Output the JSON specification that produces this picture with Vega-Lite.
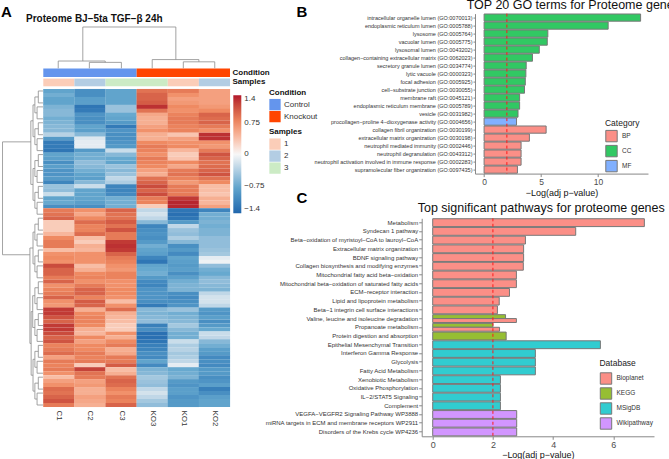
{"$schema":"https://vega.github.io/schema/vega-lite/v6.json","padding":{"left":0,"top":-1.4,"right":0,"bottom":0},"bounds":"flush","background":"white","config":{"font":"Liberation Sans","view":{"stroke":null},"axis":{"grid":false}},"resolve":{"scale":{"color":"independent"},"legend":{"color":"independent"}},"datasets":{"paths":[
{"term":"Metabolism","score":7.03,"Database":"Bioplanet"},
{"term":"Syndecan 1 pathway","score":4.75,"Database":"Bioplanet"},
{"term":"Beta−oxidation of myristoyl−CoA to lauroyl−CoA","score":3.08,"Database":"Bioplanet"},
{"term":"Extracellular matrix organization","score":3.02,"Database":"Bioplanet"},
{"term":"BDNF signaling pathway","score":3.02,"Database":"Bioplanet"},
{"term":"Collagen biosynthesis and modifying enzymes","score":3.01,"Database":"Bioplanet"},
{"term":"Mitochondrial fatty acid beta−oxidation","score":2.78,"Database":"Bioplanet"},
{"term":"Mitochondrial beta−oxidation of saturated fatty acids","score":2.78,"Database":"Bioplanet"},
{"term":"ECM−receptor interaction","score":2.55,"Database":"Bioplanet"},
{"term":"Lipid and lipoprotein metabolism","score":2.21,"Database":"Bioplanet"},
{"term":"Beta−1 integrin cell surface interactions","score":2.15,"Database":"Bioplanet"},
{"term":"Valine, leucine and isoleucine degradation","score":2.42,"Database":"KEGG"},
{"term":"Valine, leucine and isoleucine degradation","score":2.78,"Database":"Bioplanet"},
{"term":"Propanoate metabolism","score":2.0,"Database":"KEGG"},
{"term":"Propanoate metabolism","score":2.22,"Database":"Bioplanet"},
{"term":"Protein digestion and absorption","score":2.44,"Database":"KEGG"},
{"term":"Epithelial Mesenchymal Transition","score":5.57,"Database":"MSigDB"},
{"term":"Interferon Gamma Response","score":3.41,"Database":"MSigDB"},
{"term":"Glycolysis","score":3.41,"Database":"MSigDB"},
{"term":"Fatty Acid Metabolism","score":3.41,"Database":"MSigDB"},
{"term":"Xenobiotic Metabolism","score":2.25,"Database":"MSigDB"},
{"term":"Oxidative Phosphorylation","score":2.25,"Database":"MSigDB"},
{"term":"IL−2/STAT5 Signaling","score":2.25,"Database":"MSigDB"},
{"term":"Complement","score":2.25,"Database":"MSigDB"},
{"term":"VEGFA−VEGFR2 Signaling Pathway WP3888","score":2.79,"Database":"Wikipathway"},
{"term":"miRNA targets in ECM and membrane receptors WP2911","score":2.79,"Database":"Wikipathway"},
{"term":"Disorders of the Krebs cycle WP4236","score":2.79,"Database":"Wikipathway"}
]},"spacing":191.7,"hconcat":[{"width":230,"height":393.4,"resolve":{"scale":{"color":"independent"}},"layer":[
{"data":{"values":[
{"row":0,"col":0,"z":-0.8},{"row":0,"col":1,"z":-1.0},{"row":0,"col":2,"z":-0.8},{"row":0,"col":3,"z":0.9},{"row":0,"col":4,"z":0.85},{"row":0,"col":5,"z":0.6},
{"row":1,"col":0,"z":-0.7},{"row":1,"col":1,"z":-1.0},{"row":1,"col":2,"z":-0.8},{"row":1,"col":3,"z":1.0},{"row":1,"col":4,"z":0.7},{"row":1,"col":5,"z":0.6},
{"row":2,"col":0,"z":-0.8},{"row":2,"col":1,"z":-0.85},{"row":2,"col":2,"z":-0.8},{"row":2,"col":3,"z":1.0},{"row":2,"col":4,"z":0.6},{"row":2,"col":5,"z":0.6},
{"row":3,"col":0,"z":-0.8},{"row":3,"col":1,"z":-0.85},{"row":3,"col":2,"z":-0.8},{"row":3,"col":3,"z":1.05},{"row":3,"col":4,"z":0.65},{"row":3,"col":5,"z":0.6},
{"row":4,"col":0,"z":-0.65},{"row":4,"col":1,"z":-1.25},{"row":4,"col":2,"z":-0.5},{"row":4,"col":3,"z":1.3},{"row":4,"col":4,"z":0.75},{"row":4,"col":5,"z":0.65},
{"row":5,"col":0,"z":-0.6},{"row":5,"col":1,"z":-1.2},{"row":5,"col":2,"z":-0.5},{"row":5,"col":3,"z":0.9},{"row":5,"col":4,"z":0.7},{"row":5,"col":5,"z":0.75},
{"row":6,"col":0,"z":-0.6},{"row":6,"col":1,"z":-0.95},{"row":6,"col":2,"z":-0.75},{"row":6,"col":3,"z":0.55},{"row":6,"col":4,"z":0.8},{"row":6,"col":5,"z":1.0},
{"row":7,"col":0,"z":-0.7},{"row":7,"col":1,"z":-1.0},{"row":7,"col":2,"z":-0.8},{"row":7,"col":3,"z":0.5},{"row":7,"col":4,"z":0.85},{"row":7,"col":5,"z":0.95},
{"row":8,"col":0,"z":-0.65},{"row":8,"col":1,"z":-1.0},{"row":8,"col":2,"z":-0.9},{"row":8,"col":3,"z":0.5},{"row":8,"col":4,"z":0.85},{"row":8,"col":5,"z":1.0},
{"row":9,"col":0,"z":-0.6},{"row":9,"col":1,"z":-0.8},{"row":9,"col":2,"z":-1.2},{"row":9,"col":3,"z":0.6},{"row":9,"col":4,"z":0.8},{"row":9,"col":5,"z":0.85},
{"row":10,"col":0,"z":-0.6},{"row":10,"col":1,"z":-0.85},{"row":10,"col":2,"z":-0.95},{"row":10,"col":3,"z":0.7},{"row":10,"col":4,"z":0.8},{"row":10,"col":5,"z":0.7},
{"row":11,"col":0,"z":-0.35},{"row":11,"col":1,"z":-0.6},{"row":11,"col":2,"z":-1.0},{"row":11,"col":3,"z":0.5},{"row":11,"col":4,"z":0.35},{"row":11,"col":5,"z":1.3},
{"row":12,"col":0,"z":-0.9},{"row":12,"col":1,"z":-0.15},{"row":12,"col":2,"z":-1.0},{"row":12,"col":3,"z":0.5},{"row":12,"col":4,"z":0.6},{"row":12,"col":5,"z":1.3},
{"row":13,"col":0,"z":-1.2},{"row":13,"col":1,"z":-0.1},{"row":13,"col":2,"z":-0.95},{"row":13,"col":3,"z":0.75},{"row":13,"col":4,"z":0.7},{"row":13,"col":5,"z":0.7},
{"row":14,"col":0,"z":-1.2},{"row":14,"col":1,"z":-0.1},{"row":14,"col":2,"z":-0.9},{"row":14,"col":3,"z":0.85},{"row":14,"col":4,"z":0.75},{"row":14,"col":5,"z":0.65},
{"row":15,"col":0,"z":-1.25},{"row":15,"col":1,"z":-0.9},{"row":15,"col":2,"z":-0.25},{"row":15,"col":3,"z":0.8},{"row":15,"col":4,"z":0.45},{"row":15,"col":5,"z":0.85},
{"row":16,"col":0,"z":-0.8},{"row":16,"col":1,"z":-0.7},{"row":16,"col":2,"z":-0.6},{"row":16,"col":3,"z":0.7},{"row":16,"col":4,"z":0.3},{"row":16,"col":5,"z":1.1},
{"row":17,"col":0,"z":-0.85},{"row":17,"col":1,"z":-0.7},{"row":17,"col":2,"z":-0.75},{"row":17,"col":3,"z":0.85},{"row":17,"col":4,"z":0.35},{"row":17,"col":5,"z":1.0},
{"row":18,"col":0,"z":-1.0},{"row":18,"col":1,"z":-0.55},{"row":18,"col":2,"z":-0.8},{"row":18,"col":3,"z":0.8},{"row":18,"col":4,"z":0.75},{"row":18,"col":5,"z":0.9},
{"row":19,"col":0,"z":-0.85},{"row":19,"col":1,"z":-0.6},{"row":19,"col":2,"z":-0.5},{"row":19,"col":3,"z":0.75},{"row":19,"col":4,"z":0.55},{"row":19,"col":5,"z":0.95},
{"row":20,"col":0,"z":-0.95},{"row":20,"col":1,"z":-0.7},{"row":20,"col":2,"z":-0.6},{"row":20,"col":3,"z":0.6},{"row":20,"col":4,"z":0.85},{"row":20,"col":5,"z":1.0},
{"row":21,"col":0,"z":-0.95},{"row":21,"col":1,"z":-0.8},{"row":21,"col":2,"z":-0.5},{"row":21,"col":3,"z":0.5},{"row":21,"col":4,"z":0.9},{"row":21,"col":5,"z":1.1},
{"row":22,"col":0,"z":-0.9},{"row":22,"col":1,"z":-0.85},{"row":22,"col":2,"z":-0.3},{"row":22,"col":3,"z":0.9},{"row":22,"col":4,"z":0.8},{"row":22,"col":5,"z":0.9},
{"row":23,"col":0,"z":-1.1},{"row":23,"col":1,"z":-0.6},{"row":23,"col":2,"z":-0.4},{"row":23,"col":3,"z":1.0},{"row":23,"col":4,"z":0.65},{"row":23,"col":5,"z":0.75},
{"row":24,"col":0,"z":-0.5},{"row":24,"col":1,"z":-0.25},{"row":24,"col":2,"z":-1.1},{"row":24,"col":3,"z":1.15},{"row":24,"col":4,"z":0.85},{"row":24,"col":5,"z":0.4},
{"row":25,"col":0,"z":-0.55},{"row":25,"col":1,"z":-0.8},{"row":25,"col":2,"z":-1.1},{"row":25,"col":3,"z":1.0},{"row":25,"col":4,"z":0.85},{"row":25,"col":5,"z":0.4},
{"row":26,"col":0,"z":-0.25},{"row":26,"col":1,"z":-0.8},{"row":26,"col":2,"z":-1.05},{"row":26,"col":3,"z":1.15},{"row":26,"col":4,"z":0.85},{"row":26,"col":5,"z":0.35},
{"row":27,"col":0,"z":-0.8},{"row":27,"col":1,"z":-0.8},{"row":27,"col":2,"z":-0.7},{"row":27,"col":3,"z":0.85},{"row":27,"col":4,"z":1.25},{"row":27,"col":5,"z":0.5},
{"row":28,"col":0,"z":-0.75},{"row":28,"col":1,"z":-0.85},{"row":28,"col":2,"z":-0.7},{"row":28,"col":3,"z":0.8},{"row":28,"col":4,"z":1.35},{"row":28,"col":5,"z":0.45},
{"row":29,"col":0,"z":-1.0},{"row":29,"col":1,"z":-1.0},{"row":29,"col":2,"z":-0.7},{"row":29,"col":3,"z":0.3},{"row":29,"col":4,"z":1.35},{"row":29,"col":5,"z":0.6},
{"row":30,"col":0,"z":0.85},{"row":30,"col":1,"z":0.7},{"row":30,"col":2,"z":1.0},{"row":30,"col":3,"z":-0.3},{"row":30,"col":4,"z":-1.25},{"row":30,"col":5,"z":-1.1},
{"row":31,"col":0,"z":0.9},{"row":31,"col":1,"z":0.55},{"row":31,"col":2,"z":0.9},{"row":31,"col":3,"z":-0.2},{"row":31,"col":4,"z":-1.3},{"row":31,"col":5,"z":-0.7},
{"row":32,"col":0,"z":1.0},{"row":32,"col":1,"z":0.75},{"row":32,"col":2,"z":0.9},{"row":32,"col":3,"z":-0.3},{"row":32,"col":4,"z":-1.25},{"row":32,"col":5,"z":-0.7},
{"row":33,"col":0,"z":0.3},{"row":33,"col":1,"z":0.95},{"row":33,"col":2,"z":1.05},{"row":33,"col":3,"z":-0.6},{"row":33,"col":4,"z":-0.9},{"row":33,"col":5,"z":-0.65},
{"row":34,"col":0,"z":0.3},{"row":34,"col":1,"z":0.8},{"row":34,"col":2,"z":0.9},{"row":34,"col":3,"z":-1.1},{"row":34,"col":4,"z":-0.3},{"row":34,"col":5,"z":-0.7},
{"row":35,"col":0,"z":0.3},{"row":35,"col":1,"z":0.8},{"row":35,"col":2,"z":1.1},{"row":35,"col":3,"z":-1.0},{"row":35,"col":4,"z":-0.5},{"row":35,"col":5,"z":-0.65},
{"row":36,"col":0,"z":0.45},{"row":36,"col":1,"z":0.95},{"row":36,"col":2,"z":0.85},{"row":36,"col":3,"z":-0.95},{"row":36,"col":4,"z":-0.55},{"row":36,"col":5,"z":-0.65},
{"row":37,"col":0,"z":0.75},{"row":37,"col":1,"z":0.4},{"row":37,"col":2,"z":0.85},{"row":37,"col":3,"z":-1.0},{"row":37,"col":4,"z":-0.4},{"row":37,"col":5,"z":-0.55},
{"row":38,"col":0,"z":0.85},{"row":38,"col":1,"z":0.3},{"row":38,"col":2,"z":1.25},{"row":38,"col":3,"z":-0.9},{"row":38,"col":4,"z":-0.6},{"row":38,"col":5,"z":-0.55},
{"row":39,"col":0,"z":0.85},{"row":39,"col":1,"z":0.5},{"row":39,"col":2,"z":1.3},{"row":39,"col":3,"z":-0.7},{"row":39,"col":4,"z":-1.0},{"row":39,"col":5,"z":-0.55},
{"row":40,"col":0,"z":0.4},{"row":40,"col":1,"z":0.45},{"row":40,"col":2,"z":1.25},{"row":40,"col":3,"z":-0.8},{"row":40,"col":4,"z":-0.9},{"row":40,"col":5,"z":-0.5},
{"row":41,"col":0,"z":0.7},{"row":41,"col":1,"z":0.7},{"row":41,"col":2,"z":1.0},{"row":41,"col":3,"z":-0.85},{"row":41,"col":4,"z":-1.05},{"row":41,"col":5,"z":-0.45},
{"row":42,"col":0,"z":0.75},{"row":42,"col":1,"z":0.7},{"row":42,"col":2,"z":0.85},{"row":42,"col":3,"z":-1.1},{"row":42,"col":4,"z":-0.8},{"row":42,"col":5,"z":-0.1},
{"row":43,"col":0,"z":0.7},{"row":43,"col":1,"z":0.7},{"row":43,"col":2,"z":0.8},{"row":43,"col":3,"z":-1.25},{"row":43,"col":4,"z":-0.85},{"row":43,"col":5,"z":-0.05},
{"row":44,"col":0,"z":1.15},{"row":44,"col":1,"z":0.4},{"row":44,"col":2,"z":0.7},{"row":44,"col":3,"z":-0.8},{"row":44,"col":4,"z":-0.9},{"row":44,"col":5,"z":-0.55},
{"row":45,"col":0,"z":1.0},{"row":45,"col":1,"z":0.5},{"row":45,"col":2,"z":0.65},{"row":45,"col":3,"z":-0.75},{"row":45,"col":4,"z":-0.85},{"row":45,"col":5,"z":-0.7},
{"row":46,"col":0,"z":1.0},{"row":46,"col":1,"z":0.75},{"row":46,"col":2,"z":0.8},{"row":46,"col":3,"z":-0.7},{"row":46,"col":4,"z":-1.0},{"row":46,"col":5,"z":-0.75},
{"row":47,"col":0,"z":0.85},{"row":47,"col":1,"z":0.8},{"row":47,"col":2,"z":0.8},{"row":47,"col":3,"z":-0.9},{"row":47,"col":4,"z":-0.85},{"row":47,"col":5,"z":-0.6},
{"row":48,"col":0,"z":1.0},{"row":48,"col":1,"z":0.7},{"row":48,"col":2,"z":0.7},{"row":48,"col":3,"z":-1.05},{"row":48,"col":4,"z":-0.7},{"row":48,"col":5,"z":-0.55},
{"row":49,"col":0,"z":0.7},{"row":49,"col":1,"z":0.85},{"row":49,"col":2,"z":0.7},{"row":49,"col":3,"z":-1.1},{"row":49,"col":4,"z":-0.65},{"row":49,"col":5,"z":-0.6},
{"row":50,"col":0,"z":0.8},{"row":50,"col":1,"z":1.0},{"row":50,"col":2,"z":0.75},{"row":50,"col":3,"z":-0.95},{"row":50,"col":4,"z":-0.65},{"row":50,"col":5,"z":-0.65},
{"row":51,"col":0,"z":0.85},{"row":51,"col":1,"z":1.0},{"row":51,"col":2,"z":0.75},{"row":51,"col":3,"z":-0.95},{"row":51,"col":4,"z":-1.0},{"row":51,"col":5,"z":-0.3},
{"row":52,"col":0,"z":1.0},{"row":52,"col":1,"z":0.8},{"row":52,"col":2,"z":0.7},{"row":52,"col":3,"z":-0.95},{"row":52,"col":4,"z":-1.05},{"row":52,"col":5,"z":-0.2},
{"row":53,"col":0,"z":0.7},{"row":53,"col":1,"z":1.05},{"row":53,"col":2,"z":0.4},{"row":53,"col":3,"z":-1.0},{"row":53,"col":4,"z":-1.0},{"row":53,"col":5,"z":-0.2},
{"row":54,"col":0,"z":0.65},{"row":54,"col":1,"z":1.0},{"row":54,"col":2,"z":0.7},{"row":54,"col":3,"z":-1.2},{"row":54,"col":4,"z":-0.95},{"row":54,"col":5,"z":-0.3},
{"row":55,"col":0,"z":1.25},{"row":55,"col":1,"z":0.5},{"row":55,"col":2,"z":0.95},{"row":55,"col":3,"z":-0.6},{"row":55,"col":4,"z":-0.5},{"row":55,"col":5,"z":-0.9},
{"row":56,"col":0,"z":1.25},{"row":56,"col":1,"z":0.75},{"row":56,"col":2,"z":0.5},{"row":56,"col":3,"z":-0.65},{"row":56,"col":4,"z":-0.7},{"row":56,"col":5,"z":-0.95},
{"row":57,"col":0,"z":1.1},{"row":57,"col":1,"z":0.8},{"row":57,"col":2,"z":0.45},{"row":57,"col":3,"z":-0.6},{"row":57,"col":4,"z":-0.65},{"row":57,"col":5,"z":-0.85},
{"row":58,"col":0,"z":1.0},{"row":58,"col":1,"z":0.8},{"row":58,"col":2,"z":0.4},{"row":58,"col":3,"z":-0.55},{"row":58,"col":4,"z":-0.6},{"row":58,"col":5,"z":-1.0},
{"row":59,"col":0,"z":1.25},{"row":59,"col":1,"z":0.75},{"row":59,"col":2,"z":0.3},{"row":59,"col":3,"z":-1.15},{"row":59,"col":4,"z":-0.45},{"row":59,"col":5,"z":-0.9},
{"row":60,"col":0,"z":1.25},{"row":60,"col":1,"z":0.5},{"row":60,"col":2,"z":0.3},{"row":60,"col":3,"z":-1.0},{"row":60,"col":4,"z":-0.6},{"row":60,"col":5,"z":-0.75},
{"row":61,"col":0,"z":1.15},{"row":61,"col":1,"z":0.45},{"row":61,"col":2,"z":0.7},{"row":61,"col":3,"z":-1.3},{"row":61,"col":4,"z":-0.7},{"row":61,"col":5,"z":-0.25},
{"row":62,"col":0,"z":1.0},{"row":62,"col":1,"z":0.75},{"row":62,"col":2,"z":0.5},{"row":62,"col":3,"z":-1.3},{"row":62,"col":4,"z":-0.7},{"row":62,"col":5,"z":-0.3},
{"row":63,"col":0,"z":1.1},{"row":63,"col":1,"z":0.6},{"row":63,"col":2,"z":0.75},{"row":63,"col":3,"z":-1.25},{"row":63,"col":4,"z":-0.25},{"row":63,"col":5,"z":-0.6},
{"row":64,"col":0,"z":0.8},{"row":64,"col":1,"z":0.75},{"row":64,"col":2,"z":0.85},{"row":64,"col":3,"z":-1.15},{"row":64,"col":4,"z":-0.4},{"row":64,"col":5,"z":-0.7},
{"row":65,"col":0,"z":0.85},{"row":65,"col":1,"z":0.75},{"row":65,"col":2,"z":0.5},{"row":65,"col":3,"z":-1.1},{"row":65,"col":4,"z":-0.35},{"row":65,"col":5,"z":-0.85},
{"row":66,"col":0,"z":0.95},{"row":66,"col":1,"z":0.85},{"row":66,"col":2,"z":0.55},{"row":66,"col":3,"z":-1.0},{"row":66,"col":4,"z":-0.45},{"row":66,"col":5,"z":-0.9},
{"row":67,"col":0,"z":0.6},{"row":67,"col":1,"z":0.8},{"row":67,"col":2,"z":0.85},{"row":67,"col":3,"z":-1.05},{"row":67,"col":4,"z":-0.4},{"row":67,"col":5,"z":-1.05},
{"row":68,"col":0,"z":0.85},{"row":68,"col":1,"z":0.85},{"row":68,"col":2,"z":0.85},{"row":68,"col":3,"z":-0.8},{"row":68,"col":4,"z":-0.3},{"row":68,"col":5,"z":-1.0},
{"row":69,"col":0,"z":0.8},{"row":69,"col":1,"z":0.3},{"row":69,"col":2,"z":1.05},{"row":69,"col":3,"z":-1.05},{"row":69,"col":4,"z":-0.1},{"row":69,"col":5,"z":-1.05},
{"row":70,"col":0,"z":0.85},{"row":70,"col":1,"z":1.2},{"row":70,"col":2,"z":0.4},{"row":70,"col":3,"z":-0.65},{"row":70,"col":4,"z":-0.75},{"row":70,"col":5,"z":-0.9},
{"row":71,"col":0,"z":0.7},{"row":71,"col":1,"z":0.9},{"row":71,"col":2,"z":0.5},{"row":71,"col":3,"z":-0.6},{"row":71,"col":4,"z":-0.7},{"row":71,"col":5,"z":-0.9},
{"row":72,"col":0,"z":0.4},{"row":72,"col":1,"z":0.85},{"row":72,"col":2,"z":0.9},{"row":72,"col":3,"z":-0.45},{"row":72,"col":4,"z":-0.65},{"row":72,"col":5,"z":-1.0},
{"row":73,"col":0,"z":0.6},{"row":73,"col":1,"z":0.6},{"row":73,"col":2,"z":1.0},{"row":73,"col":3,"z":-0.5},{"row":73,"col":4,"z":-0.9},{"row":73,"col":5,"z":-0.95},
{"row":74,"col":0,"z":0.7},{"row":74,"col":1,"z":0.65},{"row":74,"col":2,"z":0.95},{"row":74,"col":3,"z":-0.55},{"row":74,"col":4,"z":-0.95},{"row":74,"col":5,"z":-0.85},
{"row":75,"col":0,"z":0.95},{"row":75,"col":1,"z":0.5},{"row":75,"col":2,"z":0.8},{"row":75,"col":3,"z":-0.3},{"row":75,"col":4,"z":-0.85},{"row":75,"col":5,"z":-1.15},
{"row":76,"col":0,"z":0.9},{"row":76,"col":1,"z":0.5},{"row":76,"col":2,"z":0.7},{"row":76,"col":3,"z":-0.2},{"row":76,"col":4,"z":-0.85},{"row":76,"col":5,"z":-1.0},
{"row":77,"col":0,"z":1.0},{"row":77,"col":1,"z":0.6},{"row":77,"col":2,"z":0.85},{"row":77,"col":3,"z":-0.3},{"row":77,"col":4,"z":-0.95},{"row":77,"col":5,"z":-0.85},
{"row":78,"col":0,"z":1.1},{"row":78,"col":1,"z":0.55},{"row":78,"col":2,"z":0.8},{"row":78,"col":3,"z":-0.45},{"row":78,"col":4,"z":-0.9},{"row":78,"col":5,"z":-0.8},
{"row":79,"col":0,"z":0.85},{"row":79,"col":1,"z":0.5},{"row":79,"col":2,"z":1.0},{"row":79,"col":3,"z":-0.55},{"row":79,"col":4,"z":-0.9},{"row":79,"col":5,"z":-0.8}
]},"mark":{"type":"rect","width":31.3,"height":4.1},"encoding":{
"x":{"field":"col","type":"quantitative","scale":{"domain":[-1.891,5.5],"nice":false,"zero":false},"title":null,"axis":{"values":[0,1,2,3,4,5],"labelExpr":"['C1','C2','C3','KO3','KO1','KO2'][datum.value]","labelAngle":90,"labelFontSize":8,"labelColor":"#333","labelPadding":3,"ticks":false,"domain":false,"grid":false}},
"y":{"field":"row","type":"quantitative","scale":{"domain":[-19.47,79.5],"nice":false,"zero":false,"reverse":true},"axis":null},
"color":{"field":"z","type":"quantitative","scale":{"domain":[-1.4,-0.75,0,0.75,1.4],"range":["#2166ac","#67a9cf","#f7f7f7","#ef8a62","#b2182b"]},"legend":{"orient":"none","legendX":233.3,"legendY":81.7,"title":null,"gradientLength":118,"gradientThickness":8,"values":[-1.4,-0.75,0,0.75,1.4],"format":".2~f","labelFontSize":8,"labelColor":"#333","labelOffset":3,"gradientStrokeWidth":0}}}},
{"data":{"values":[{"x0":-0.5,"x1":2.5,"group":"Control"},{"x0":2.5,"x1":5.5,"group":"Knockout"}]},"mark":{"type":"rect"},"encoding":{
"x":{"field":"x0","type":"quantitative","scale":{"domain":[-1.891,5.5],"nice":false,"zero":false},"title":null},"x2":{"field":"x1"},
"y":{"datum":-5.63,"type":"quantitative","scale":{"domain":[-19.47,79.5],"nice":false,"zero":false,"reverse":true},"axis":null},"y2":{"datum":-3.5},
"color":{"field":"group","type":"nominal","scale":{"domain":["Control","Knockout"],"range":["#6495ed","#ff4500"]},"legend":{"orient":"none","legendX":269,"legendY":75,"title":"Condition","titleFontSize":8,"titleFontWeight":"bold","titleColor":"#111","titlePadding":2,"labelFontSize":8,"labelColor":"#333","labelOffset":3,"symbolType":"square","symbolSize":128,"rowPadding":-1.2,"symbolStrokeWidth":0,"symbolOpacity":1}}}},
{"data":{"values":[{"x0":-0.5,"x1":0.5,"sample":"1"},{"x0":0.5,"x1":1.5,"sample":"2"},{"x0":1.5,"x1":3.5,"sample":"3"},{"x0":3.5,"x1":4.5,"sample":"1"},{"x0":4.5,"x1":5.5,"sample":"2"}]},"mark":{"type":"rect"},"encoding":{
"x":{"field":"x0","type":"quantitative","scale":{"domain":[-1.891,5.5],"nice":false,"zero":false},"title":null},"x2":{"field":"x1"},
"y":{"datum":-3.12,"type":"quantitative","scale":{"domain":[-19.47,79.5],"nice":false,"zero":false,"reverse":true},"axis":null},"y2":{"datum":-1.18},
"color":{"field":"sample","type":"nominal","scale":{"domain":["1","2","3"],"range":["#fbcdb8","#b3cde3","#ccebc5"]},"legend":{"orient":"none","legendX":269,"legendY":114.5,"title":"Samples","titleFontSize":8,"titleFontWeight":"bold","titleColor":"#111","titlePadding":2,"labelFontSize":8,"labelColor":"#333","labelOffset":3,"symbolType":"square","symbolSize":128,"rowPadding":-1.2,"symbolStrokeWidth":0,"symbolOpacity":1}}}},
{"data":{"values":[
{"x0":-0.02,"y0":-7.54,"x1":1.49,"y1":-7.54},{"x0":-0.02,"y0":-7.54,"x1":-0.02,"y1":-5.7},{"x0":1.49,"y0":-7.54,"x1":1.49,"y1":-7.2},{"x0":0.98,"y0":-7.2,"x1":2.01,"y1":-7.2},{"x0":0.98,"y0":-7.2,"x1":0.98,"y1":-5.7},{"x0":2.01,"y0":-7.2,"x1":2.01,"y1":-5.7},
{"x0":0.77,"y0":-16.1,"x1":3.76,"y1":-16.1},{"x0":0.77,"y0":-16.1,"x1":0.77,"y1":-7.54},{"x0":3.76,"y0":-16.1,"x1":3.76,"y1":-7.9},
{"x0":3.0,"y0":-7.9,"x1":4.5,"y1":-7.9},{"x0":3.0,"y0":-7.9,"x1":3.0,"y1":-5.7},{"x0":4.5,"y0":-7.9,"x1":4.5,"y1":-7.34},{"x0":4.0,"y0":-7.34,"x1":5.01,"y1":-7.34},{"x0":4.0,"y0":-7.34,"x1":4.0,"y1":-5.7},{"x0":5.01,"y0":-7.34,"x1":5.01,"y1":-5.7},
{"x0":-1.81,"y0":12.8,"x1":-1.81,"y1":41.2},{"x0":-1.81,"y0":12.8,"x1":-0.9,"y1":12.8},{"x0":-1.81,"y0":41.2,"x1":-0.93,"y1":41.2},
{"x0":-0.9,"y0":7.5,"x1":-0.9,"y1":23.5},{"x0":-0.9,"y0":7.5,"x1":-0.83,"y1":7.5},{"x0":-0.9,"y0":23.5,"x1":-0.83,"y1":23.5},
{"x0":-0.93,"y0":39.5,"x1":-0.93,"y1":63.5},{"x0":-0.93,"y0":39.5,"x1":-0.83,"y1":39.5},{"x0":-0.93,"y0":63.5,"x1":-0.89,"y1":63.5},
{"x0":-0.89,"y0":55.5,"x1":-0.89,"y1":71.5},{"x0":-0.89,"y0":55.5,"x1":-0.84,"y1":55.5},{"x0":-0.89,"y0":71.5,"x1":-0.83,"y1":71.5},
{"x0":-0.83,"y0":3.5,"x1":-0.83,"y1":11.5},{"x0":-0.83,"y0":3.5,"x1":-0.77,"y1":3.5},{"x0":-0.83,"y0":11.5,"x1":-0.77,"y1":11.5},
{"x0":-0.83,"y0":19.5,"x1":-0.83,"y1":27.5},{"x0":-0.83,"y0":19.5,"x1":-0.77,"y1":19.5},{"x0":-0.83,"y0":27.5,"x1":-0.77,"y1":27.5},
{"x0":-0.83,"y0":35.5,"x1":-0.83,"y1":43.5},{"x0":-0.83,"y0":35.5,"x1":-0.77,"y1":35.5},{"x0":-0.83,"y0":43.5,"x1":-0.77,"y1":43.5},
{"x0":-0.84,"y0":51.5,"x1":-0.84,"y1":59.5},{"x0":-0.84,"y0":51.5,"x1":-0.77,"y1":51.5},{"x0":-0.84,"y0":59.5,"x1":-0.77,"y1":59.5},
{"x0":-0.83,"y0":67.5,"x1":-0.83,"y1":75.5},{"x0":-0.83,"y0":67.5,"x1":-0.77,"y1":67.5},{"x0":-0.83,"y0":75.5,"x1":-0.77,"y1":75.5},
{"x0":-0.77,"y0":1.5,"x1":-0.77,"y1":5.5},{"x0":-0.77,"y0":1.5,"x1":-0.66,"y1":1.5},{"x0":-0.77,"y0":5.5,"x1":-0.7,"y1":5.5},
{"x0":-0.77,"y0":9.5,"x1":-0.77,"y1":13.5},{"x0":-0.77,"y0":9.5,"x1":-0.66,"y1":9.5},{"x0":-0.77,"y0":13.5,"x1":-0.7,"y1":13.5},
{"x0":-0.77,"y0":17.5,"x1":-0.77,"y1":21.5},{"x0":-0.77,"y0":17.5,"x1":-0.66,"y1":17.5},{"x0":-0.77,"y0":21.5,"x1":-0.7,"y1":21.5},
{"x0":-0.77,"y0":25.5,"x1":-0.77,"y1":29.5},{"x0":-0.77,"y0":25.5,"x1":-0.66,"y1":25.5},{"x0":-0.77,"y0":29.5,"x1":-0.7,"y1":29.5},
{"x0":-0.77,"y0":33.5,"x1":-0.77,"y1":37.5},{"x0":-0.77,"y0":33.5,"x1":-0.66,"y1":33.5},{"x0":-0.77,"y0":37.5,"x1":-0.7,"y1":37.5},
{"x0":-0.77,"y0":41.5,"x1":-0.77,"y1":45.5},{"x0":-0.77,"y0":41.5,"x1":-0.66,"y1":41.5},{"x0":-0.77,"y0":45.5,"x1":-0.7,"y1":45.5},
{"x0":-0.77,"y0":49.5,"x1":-0.77,"y1":53.5},{"x0":-0.77,"y0":49.5,"x1":-0.66,"y1":49.5},{"x0":-0.77,"y0":53.5,"x1":-0.7,"y1":53.5},
{"x0":-0.77,"y0":57.5,"x1":-0.77,"y1":61.5},{"x0":-0.77,"y0":57.5,"x1":-0.66,"y1":57.5},{"x0":-0.77,"y0":61.5,"x1":-0.7,"y1":61.5},
{"x0":-0.77,"y0":65.5,"x1":-0.77,"y1":69.5},{"x0":-0.77,"y0":65.5,"x1":-0.66,"y1":65.5},{"x0":-0.77,"y0":69.5,"x1":-0.7,"y1":69.5},
{"x0":-0.77,"y0":73.5,"x1":-0.77,"y1":77.5},{"x0":-0.77,"y0":73.5,"x1":-0.66,"y1":73.5},{"x0":-0.77,"y0":77.5,"x1":-0.7,"y1":77.5},
{"x0":-0.66,"y0":0,"x1":-0.66,"y1":3},{"x0":-0.66,"y0":0,"x1":-0.51,"y1":0},{"x0":-0.66,"y0":3,"x1":-0.51,"y1":3},
{"x0":-0.7,"y0":4,"x1":-0.7,"y1":7},{"x0":-0.7,"y0":4,"x1":-0.51,"y1":4},{"x0":-0.7,"y0":7,"x1":-0.51,"y1":7},
{"x0":-0.66,"y0":8,"x1":-0.66,"y1":11},{"x0":-0.66,"y0":8,"x1":-0.51,"y1":8},{"x0":-0.66,"y0":11,"x1":-0.51,"y1":11},
{"x0":-0.7,"y0":12,"x1":-0.7,"y1":15},{"x0":-0.7,"y0":12,"x1":-0.51,"y1":12},{"x0":-0.7,"y0":15,"x1":-0.51,"y1":15},
{"x0":-0.66,"y0":16,"x1":-0.66,"y1":19},{"x0":-0.66,"y0":16,"x1":-0.51,"y1":16},{"x0":-0.66,"y0":19,"x1":-0.51,"y1":19},
{"x0":-0.7,"y0":20,"x1":-0.7,"y1":23},{"x0":-0.7,"y0":20,"x1":-0.51,"y1":20},{"x0":-0.7,"y0":23,"x1":-0.51,"y1":23},
{"x0":-0.66,"y0":24,"x1":-0.66,"y1":27},{"x0":-0.66,"y0":24,"x1":-0.51,"y1":24},{"x0":-0.66,"y0":27,"x1":-0.51,"y1":27},
{"x0":-0.7,"y0":28,"x1":-0.7,"y1":31},{"x0":-0.7,"y0":28,"x1":-0.51,"y1":28},{"x0":-0.7,"y0":31,"x1":-0.51,"y1":31},
{"x0":-0.66,"y0":32,"x1":-0.66,"y1":35},{"x0":-0.66,"y0":32,"x1":-0.51,"y1":32},{"x0":-0.66,"y0":35,"x1":-0.51,"y1":35},
{"x0":-0.7,"y0":36,"x1":-0.7,"y1":39},{"x0":-0.7,"y0":36,"x1":-0.51,"y1":36},{"x0":-0.7,"y0":39,"x1":-0.51,"y1":39},
{"x0":-0.66,"y0":40,"x1":-0.66,"y1":43},{"x0":-0.66,"y0":40,"x1":-0.51,"y1":40},{"x0":-0.66,"y0":43,"x1":-0.51,"y1":43},
{"x0":-0.7,"y0":44,"x1":-0.7,"y1":47},{"x0":-0.7,"y0":44,"x1":-0.51,"y1":44},{"x0":-0.7,"y0":47,"x1":-0.51,"y1":47},
{"x0":-0.66,"y0":48,"x1":-0.66,"y1":51},{"x0":-0.66,"y0":48,"x1":-0.51,"y1":48},{"x0":-0.66,"y0":51,"x1":-0.51,"y1":51},
{"x0":-0.7,"y0":52,"x1":-0.7,"y1":55},{"x0":-0.7,"y0":52,"x1":-0.51,"y1":52},{"x0":-0.7,"y0":55,"x1":-0.51,"y1":55},
{"x0":-0.66,"y0":56,"x1":-0.66,"y1":59},{"x0":-0.66,"y0":56,"x1":-0.51,"y1":56},{"x0":-0.66,"y0":59,"x1":-0.51,"y1":59},
{"x0":-0.7,"y0":60,"x1":-0.7,"y1":63},{"x0":-0.7,"y0":60,"x1":-0.51,"y1":60},{"x0":-0.7,"y0":63,"x1":-0.51,"y1":63},
{"x0":-0.66,"y0":64,"x1":-0.66,"y1":67},{"x0":-0.66,"y0":64,"x1":-0.51,"y1":64},{"x0":-0.66,"y0":67,"x1":-0.51,"y1":67},
{"x0":-0.7,"y0":68,"x1":-0.7,"y1":71},{"x0":-0.7,"y0":68,"x1":-0.51,"y1":68},{"x0":-0.7,"y0":71,"x1":-0.51,"y1":71},
{"x0":-0.66,"y0":72,"x1":-0.66,"y1":75},{"x0":-0.66,"y0":72,"x1":-0.51,"y1":72},{"x0":-0.66,"y0":75,"x1":-0.51,"y1":75},
{"x0":-0.7,"y0":76,"x1":-0.7,"y1":79},{"x0":-0.7,"y0":76,"x1":-0.51,"y1":76},{"x0":-0.7,"y0":79,"x1":-0.51,"y1":79}
]},"mark":{"type":"rule","color":"#8c8c8c","strokeWidth":0.8},"encoding":{
"x":{"field":"x0","type":"quantitative","scale":{"domain":[-1.891,5.5],"nice":false,"zero":false},"title":null},"x2":{"field":"x1"},
"y":{"field":"y0","type":"quantitative","scale":{"domain":[-19.47,79.5],"nice":false,"zero":false,"reverse":true},"axis":null},"y2":{"field":"y1"}}},
{"data":{"values":[{"label":"Condition","lx":5.5,"ly":-4.58},{"label":"Samples","lx":5.5,"ly":-2.19}]},"mark":{"type":"text","align":"left","baseline":"middle","dx":2.5,"fontSize":8,"fontWeight":"bold","color":"#111"},"encoding":{
"x":{"field":"lx","type":"quantitative","scale":{"domain":[-1.891,5.5],"nice":false,"zero":false},"title":null},
"y":{"field":"ly","type":"quantitative","scale":{"domain":[-19.47,79.5],"nice":false,"zero":false,"reverse":true},"axis":null},"text":{"field":"label"}}},
{"data":{"values":[{"label":"Proteome BJ−5ta TGF−β 24h","lx":1.14,"ly":-17.3}]},"mark":{"type":"text","align":"center","baseline":"alphabetic","fontSize":10,"fontWeight":"bold","color":"#111"},"encoding":{
"x":{"field":"lx","type":"quantitative","scale":{"domain":[-1.891,5.5],"nice":false,"zero":false},"title":null},
"y":{"field":"ly","type":"quantitative","scale":{"domain":[-19.47,79.5],"nice":false,"zero":false,"reverse":true},"axis":null},"text":{"field":"label"}}},
{"data":{"values":[{"tag":"A","lx":-1.86,"ly":-18.54},{"tag":"B","lx":7.64,"ly":-18.54},{"tag":"C","lx":7.64,"ly":28.25}]},"mark":{"type":"text","align":"left","baseline":"alphabetic","fontSize":15,"fontWeight":"bold","color":"#000"},"encoding":{
"x":{"field":"lx","type":"quantitative","scale":{"domain":[-1.891,5.5],"nice":false,"zero":false},"title":null},
"y":{"field":"ly","type":"quantitative","scale":{"domain":[-19.47,79.5],"nice":false,"zero":false,"reverse":true},"axis":null},"text":{"field":"tag"}}}
]},
{"bounds":"flush","spacing":44.7,"resolve":{"scale":{"color":"independent"},"legend":{"color":"independent"}},"vconcat":[
{"width":232.3,"height":160,"title":{"text":"TOP 20 GO terms for Proteome genes","anchor":"start","frame":"group","dx":45,"offset":-8.7,"baseline":"alphabetic","fontSize":12.5,"fontWeight":"normal","color":"#111"},"layer":[
{"data":{"values":[
{"term":"intracellular organelle lumen (GO:0070013)","score":13.75,"Category":"CC"},
{"term":"endoplasmic reticulum lumen (GO:0005788)","score":10.9,"Category":"CC"},
{"term":"lysosome (GO:0005764)","score":5.6,"Category":"CC"},
{"term":"vacuolar lumen (GO:0005775)","score":5.55,"Category":"CC"},
{"term":"lysosomal lumen (GO:0043202)","score":4.85,"Category":"CC"},
{"term":"collagen−containing extracellular matrix (GO:0062023)","score":4.25,"Category":"CC"},
{"term":"secretory granule lumen (GO:0034774)","score":3.7,"Category":"CC"},
{"term":"lytic vacuole (GO:0000323)","score":3.67,"Category":"CC"},
{"term":"focal adhesion (GO:0005925)","score":3.62,"Category":"CC"},
{"term":"cell−substrate junction (GO:0030055)","score":3.55,"Category":"CC"},
{"term":"membrane raft (GO:0045121)","score":3.12,"Category":"CC"},
{"term":"endoplasmic reticulum membrane (GO:0005789)","score":3.12,"Category":"CC"},
{"term":"vesicle (GO:0031982)","score":2.98,"Category":"CC"},
{"term":"procollagen−proline 4−dioxygenase activity (GO:0004656)","score":2.85,"Category":"MF"},
{"term":"collagen fibril organization (GO:0030199)","score":5.45,"Category":"BP"},
{"term":"extracellular matrix organization (GO:0030198)","score":3.98,"Category":"BP"},
{"term":"neutrophil mediated immunity (GO:0002446)","score":3.25,"Category":"BP"},
{"term":"neutrophil degranulation (GO:0043312)","score":3.25,"Category":"BP"},
{"term":"neutrophil activation involved in immune response (GO:0002283)","score":3.25,"Category":"BP"},
{"term":"supramolecular fiber organization (GO:0097435)","score":2.93,"Category":"BP"}
]},"mark":{"type":"bar","stroke":"#777","strokeWidth":1},"encoding":{
"x":{"field":"score","type":"quantitative","scale":{"domain":[-0.8,14.4],"range":[53.3,226.3],"nice":false,"zero":false},"title":"−Log(adj p−value)","axis":{"values":[0,5,10],"domainColor":"#888","tickColor":"#888","tickSize":3,"labelColor":"#4d4d4d","labelFontSize":8.5,"titleFontSize":9,"titleFontWeight":"normal","titleColor":"#111","titlePadding":2,"labelPadding":1}},
"y":{"field":"term","type":"nominal","sort":null,"scale":{"paddingInner":0.1,"paddingOuter":0.05},"title":null,"axis":{"offset":-53.3,"domainColor":"#888","tickColor":"#888","tickSize":2,"labelColor":"#333","labelFontSize":5.5,"labelLimit":300,"labelPadding":1}},
"color":{"field":"Category","type":"nominal","scale":{"domain":["BP","CC","MF"],"range":["#fb8f87","#31c863","#81b0ff"]},"legend":{"orient":"none","legendX":183.3,"legendY":105.5,"titleFontSize":8.5,"titleFontWeight":"normal","titleColor":"#222","titlePadding":2,"labelFontSize":6.5,"labelColor":"#333","labelOffset":4,"symbolType":"square","symbolSize":130,"symbolStrokeColor":"#777","symbolStrokeWidth":1,"symbolOpacity":1,"rowPadding":-5}}}},
{"data":{"values":[{"cut":2}]},"mark":{"type":"rule","color":"#ff1a1a","strokeWidth":1,"strokeDash":[3,2.5]},"encoding":{"x":{"field":"cut","type":"quantitative","scale":{"domain":[-0.8,14.4],"range":[53.3,226.3],"nice":false,"zero":false}}}}
]},
{"width":232.3,"height":218,"title":{"text":"Top significant pathways for proteome genes","anchor":"start","frame":"group","dx":-4,"offset":-6.7,"baseline":"alphabetic","fontSize":12.5,"fontWeight":"normal","color":"#111"},"layer":[
{"data":{"name":"paths"},"transform":[{"filter":{"not":{"field":"term","oneOf":["Valine, leucine and isoleucine degradation","Propanoate metabolism"]}}}],"mark":{"type":"bar","stroke":"#777","strokeWidth":1},"encoding":{
"x":{"field":"score","type":"quantitative","scale":{"domain":[-0.365,7.35],"nice":false,"zero":false},"title":"−Log(adj p−value)","axis":{"values":[0,2,4,6],"domainColor":"#888","tickColor":"#888","tickSize":3,"labelColor":"#4d4d4d","labelFontSize":9,"titleFontSize":9,"titleFontWeight":"normal","titleColor":"#111","titlePadding":1,"labelPadding":1}},
"y":{"field":"term","type":"nominal","sort":null,"scale":{"domain":["Metabolism","Syndecan 1 pathway","Beta−oxidation of myristoyl−CoA to lauroyl−CoA","Extracellular matrix organization","BDNF signaling pathway","Collagen biosynthesis and modifying enzymes","Mitochondrial fatty acid beta−oxidation","Mitochondrial beta−oxidation of saturated fatty acids","ECM−receptor interaction","Lipid and lipoprotein metabolism","Beta−1 integrin cell surface interactions","Valine, leucine and isoleucine degradation","Propanoate metabolism","Protein digestion and absorption","Epithelial Mesenchymal Transition","Interferon Gamma Response","Glycolysis","Fatty Acid Metabolism","Xenobiotic Metabolism","Oxidative Phosphorylation","IL−2/STAT5 Signaling","Complement","VEGFA−VEGFR2 Signaling Pathway WP3888","miRNA targets in ECM and membrane receptors WP2911","Disorders of the Krebs cycle WP4236"],"paddingInner":0.1,"paddingOuter":0.05},"title":null,"axis":{"domainColor":"#888","tickColor":"#888","tickSize":3,"labelColor":"#333","labelFontSize":6,"labelLimit":300,"labelPadding":1}},
"color":{"field":"Database","type":"nominal","scale":{"domain":["Bioplanet","KEGG","MSigDB","Wikipathway"],"range":["#fb8f87","#96be33","#31ccd0","#d296ff"]},"legend":{"orient":"none","legendX":177.8,"legendY":141.2,"titleFontSize":8.5,"titleFontWeight":"normal","titleColor":"#222","titlePadding":4,"labelFontSize":6.5,"labelColor":"#333","labelOffset":4,"symbolType":"square","symbolSize":130,"symbolStrokeColor":"#777","symbolStrokeWidth":1,"symbolOpacity":1,"rowPadding":-5}}}},
{"data":{"name":"paths"},"transform":[{"filter":{"field":"term","oneOf":["Valine, leucine and isoleucine degradation","Propanoate metabolism"]}}],"mark":{"type":"bar","stroke":"#777","strokeWidth":1},"encoding":{
"x":{"field":"score","type":"quantitative","scale":{"domain":[-0.365,7.35],"nice":false,"zero":false},"title":"−Log(adj p−value)"},
"y":{"field":"term","type":"nominal","sort":null,"title":null},
"yOffset":{"field":"Database","type":"nominal","scale":{"domain":["KEGG","Bioplanet"]}},
"color":{"field":"Database","type":"nominal"}}},
{"data":{"values":[{"cut":2}]},"mark":{"type":"rule","color":"#ff1a1a","strokeWidth":1,"strokeDash":[3,2.5]},"encoding":{"x":{"field":"cut","type":"quantitative","scale":{"domain":[-0.365,7.35],"nice":false,"zero":false}}}}
]}
]}
]}
